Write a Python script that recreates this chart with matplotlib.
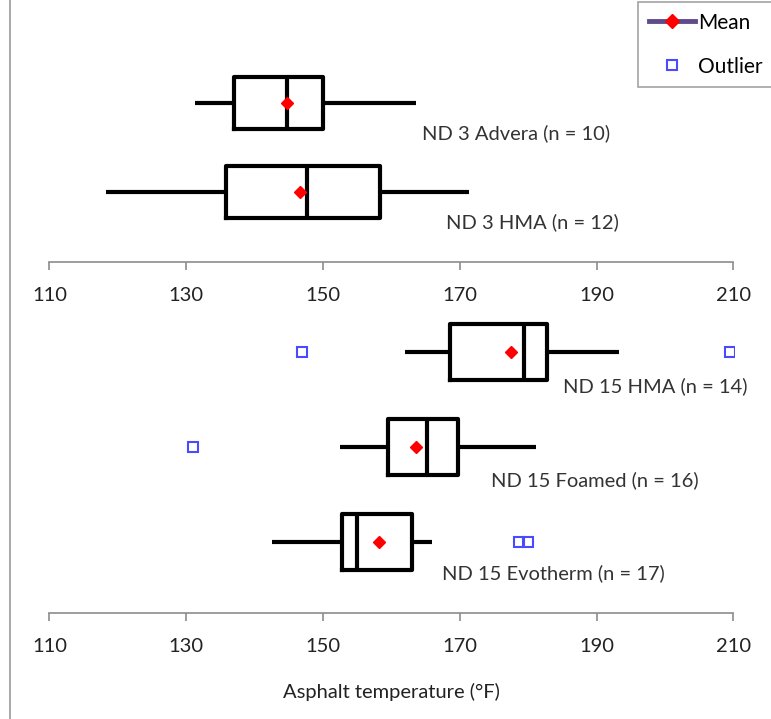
import matplotlib
matplotlib.use('Agg')
import matplotlib.pyplot as plt
from matplotlib.lines import Line2D

plt.rcParams['font.family'] = ['Lato', 'DejaVu Sans']

# ND 3 group (upper panel), listed bottom to top
top_labels = ['ND 3 HMA (n = 12)', 'ND 3 Advera (n = 10)']
top_whislo = [118.3, 131.3]
top_q1 = [135.8, 137.0]
top_med = [147.7, 144.7]
top_q3 = [158.3, 150.0]
top_whishi = [171.3, 163.6]
top_mean = [146.6, 144.7]
top_fliers = [[], []]

# ND 15 group (lower panel), listed bottom to top
bot_labels = ['ND 15 Evotherm (n = 17)', 'ND 15 Foamed (n = 16)', 'ND 15 HMA (n = 14)']
bot_whislo = [142.5, 152.5, 162.0]
bot_q1 = [152.7, 159.5, 168.6]
bot_med = [155.0, 165.2, 179.4]
bot_q3 = [163.0, 169.7, 182.7]
bot_whishi = [165.9, 181.1, 193.2]
bot_mean = [158.1, 163.6, 177.5]
bot_fliers = [[178.7, 180.0], [131.0], [146.9, 209.5]]

xticks = [110, 130, 150, 170, 190, 210]

W, H = 771, 719
fig = plt.figure(figsize=(W / 100, H / 100), dpi=100)
fig.patch.set_facecolor('white')

# left border line of the chart area
fig.add_artist(Line2D([10 / W, 10 / W], [0, 1], transform=fig.transFigure,
                      color='#9a9a9a', lw=1.2))

x0 = 49.5 / W
xw = 684 / W
ax_top = fig.add_axes([x0, 1 - 262 / H, xw, 262 / H])
ax_bot = fig.add_axes([x0, 1 - 613 / H, xw, 313 / H])

box_w = 0.59
line_kw = dict(color='black', lw=3.0, solid_capstyle='butt')


def draw(ax, labels, wlo, q1, med, q3, whi, mean, fliers, text_x, text_dy):
    stats = []
    for i in range(len(labels)):
        stats.append(dict(whislo=wlo[i], q1=q1[i], med=med[i], q3=q3[i],
                          whishi=whi[i], mean=mean[i], fliers=fliers[i], label=''))
    pos = list(range(1, len(labels) + 1))
    ax.bxp(stats, positions=pos, widths=box_w, orientation='horizontal',
           showcaps=False, showmeans=True, showfliers=True,
           boxprops=dict(color='black', lw=3.0),
           whiskerprops=line_kw, medianprops=dict(color='black', lw=3.0),
           meanprops=dict(marker='D', markerfacecolor='#ff0000',
                          markeredgecolor='#ff0000', markersize=6.5),
           flierprops=dict(marker='s', markerfacecolor='none',
                           markeredgecolor='#4a4aff', markersize=7.5,
                           markeredgewidth=1.5))
    for p, lab, tx, dy in zip(pos, labels, text_x, text_dy):
        ax.text(tx, p - dy, lab, fontsize=14.5, color='#333333',
                ha='left', va='center')
    ax.set_xlim(110, 210)
    ax.set_xticks(xticks)
    for s in ['top', 'left', 'right']:
        ax.spines[s].set_visible(False)
    ax.spines['bottom'].set_color('#8c8c8c')
    ax.spines['bottom'].set_linewidth(1.2)
    ax.tick_params(axis='x', direction='out', length=6, width=1.2,
                   color='#8c8c8c', labelsize=14.5, labelcolor='#222222', pad=12)
    ax.set_yticks([])
    ax.patch.set_alpha(0)


draw(ax_top, top_labels, top_whislo, top_q1, top_med, top_q3, top_whishi,
     top_mean, top_fliers, [167.9, 164.4], [0.34, 0.34])
ax_top.set_ylim(0.213, 3.157)

draw(ax_bot, bot_labels, bot_whislo, bot_q1, bot_med, bot_q3, bot_whishi,
     bot_mean, bot_fliers, [167.4, 174.6, 185.1], [0.33, 0.35, 0.36])
ax_bot.set_ylim(0.253, 3.547)
ax_bot.set_xlabel('Asphalt temperature (°F)', fontsize=14.5, color='#222222',
                  labelpad=20)

handles = [
    Line2D([], [], color='#5f4b8b', lw=3.5, marker='D', markerfacecolor='#ff0000',
           markeredgecolor='#ff0000', markersize=7),
    Line2D([], [], ls='none', marker='s', markerfacecolor='none',
           markeredgecolor='#4a4aff', markersize=7.5, markeredgewidth=1.5),
]
leg = fig.legend(handles, ['Mean', 'Outlier'], loc='lower right',
                 bbox_to_anchor=(1.002, 1 - 87 / H), fontsize=15, frameon=True,
                 fancybox=False, edgecolor='#8c8c8c', handlelength=2.2,
                 handletextpad=0.15, borderpad=0.5, labelspacing=1.15,
                 borderaxespad=0)
leg.get_frame().set_linewidth(1.2)

fig.savefig('out.png', dpi=100, facecolor='white')
